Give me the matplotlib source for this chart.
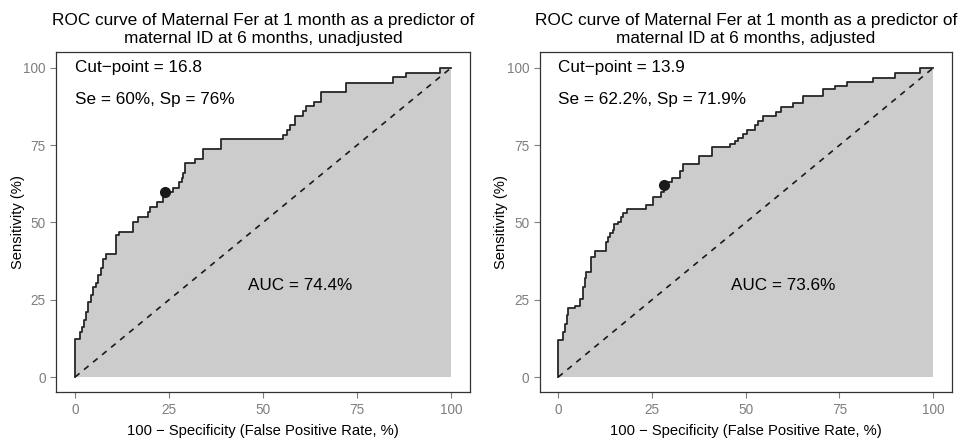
import matplotlib
matplotlib.use("Agg")
import matplotlib.pyplot as plt

plt.rcParams['font.family'] = ['Liberation Sans', 'DejaVu Sans']

# ROC 点 (100 - 特异度, 灵敏度), 单位 %
fpr_unadj = [0, 0, 1.2, 1.8, 2.4, 2.9, 3.5, 4.2, 4.9, 5.6, 6.2, 6.8, 7.4, 8.3, 10.9,
             11.8, 15.5, 16.8, 19.5, 20.0, 21.9, 23.5, 24.0, 26.1, 27.7, 28.4, 28.8,
             29.3, 31.9, 34.0, 38.7, 55.4, 56.3, 57.2, 58.5, 60.7, 61.4, 63.5, 65.5,
             72.2, 84.5, 88.0, 97.1, 100]
tpr_unadj = [0, 12.2, 14.7, 16.3, 18.4, 21.1, 24.4, 26.5, 29.2, 30.3, 33.0, 35.2, 38.2,
             39.8, 46.0, 47.0, 50.3, 51.9, 53.5, 55.1, 56.7, 58.3, 60.0, 61.1, 63.2,
             64.3, 65.9, 69.2, 70.4, 73.7, 76.9, 78.3, 79.9, 81.6, 84.5, 86.2, 87.7,
             89.1, 92.1, 95.2, 97.0, 98.5, 100, 100]

fpr_adj = [0, 0, 1.25, 1.7, 2.2, 2.6, 4.4, 5.7, 6.6, 7.0, 7.5, 8.8, 9.9, 12.8, 13.2,
           13.8, 14.5, 14.9, 15.8, 16.7, 17.3, 18.4, 23.3, 25.3, 27.5, 28.1, 28.9,
           30.2, 32.5, 33.3, 37.5, 40.9, 45.8, 47.1, 48.0, 49.3, 50.4, 52.4, 53.3,
           54.6, 58.2, 59.5, 62.6, 65.3, 70.7, 73.8, 76.9, 84.0, 89.8, 96.5, 100]
tpr_adj = [0, 11.9, 14.6, 17.3, 20.0, 22.2, 22.9, 25.4, 29.2, 31.9, 34.0, 38.7, 40.8,
           43.8, 45.4, 46.5, 47.6, 49.5, 50.2, 51.9, 53.0, 54.3, 55.7, 58.4, 60.0,
           62.2, 63.2, 64.3, 66.5, 68.9, 71.4, 74.3, 75.4, 76.5, 77.3, 78.7, 80.0,
           81.6, 82.7, 84.3, 85.6, 87.5, 88.8, 91.0, 93.2, 94.2, 95.6, 96.7, 98.5,
           100, 100]

cut_points = [16.8, 13.9]
se_labels = ["60%", "62.2%"]
sp_labels = ["76%", "71.9%"]
cut_fpr = [24.0, 28.1]
cut_tpr = [60.0, 62.2]
auc_labels = ["74.4%", "73.6%"]
titles = ["ROC curve of Maternal Fer at 1 month as a predictor of\nmaternal ID at 6 months, unadjusted",
          "ROC curve of Maternal Fer at 1 month as a predictor of\nmaternal ID at 6 months, adjusted"]
ticks = [0, 25, 50, 75, 100]

fig = plt.figure(figsize=(9.63, 4.41), dpi=100)
ax1 = fig.add_axes([0.0584, 0.110, 0.4294, 0.771])
ax2 = fig.add_axes([0.5603, 0.110, 0.4282, 0.771])

curves = [(fpr_unadj, tpr_unadj), (fpr_adj, tpr_adj)]
for i, ax in enumerate([ax1, ax2]):
    fpr, tpr = curves[i]
    ax.fill_between(fpr, tpr, 0, step='post', color='#cccccc', lw=0)
    ax.plot(fpr, tpr, drawstyle='steps-post', color='#262626', lw=1.3)
    ax.plot([0, 100], [0, 100], color='#1a1a1a', lw=1.2, ls=(0, (3.5, 3.5)))
    ax.plot(cut_fpr[i], cut_tpr[i], 'o', color='#1a1a1a', ms=7)

    ax.text(0, 100, f"Cut\u2212point = {cut_points[i]}", fontsize=12.3, ha='left', va='center')
    ax.text(0, 89.8, f"Se = {se_labels[i]}, Sp = {sp_labels[i]}", fontsize=12.3,
            ha='left', va='center')
    ax.text(60, 29.7, f"AUC = {auc_labels[i]}", fontsize=12.3, ha='center', va='center')

    ax.set_xlim(-5, 105)
    ax.set_ylim(-5, 105)
    ax.set_xticks(ticks)
    ax.set_yticks(ticks)
    ax.tick_params(colors='#7f7f7f', labelsize=9.8, length=4, width=0.8, labelcolor='#7f7f7f')
    for s in ax.spines.values():
        s.set_color('#333333')
        s.set_linewidth(0.9)
    ax.set_xlabel("100 \u2212 Specificity (False Positive Rate, %)", fontsize=10.6, labelpad=5)
    ax.set_ylabel("Sensitivity (%)", fontsize=10.6, labelpad=-1)
    ax.set_title(titles[i], fontsize=12.4, pad=7, linespacing=1.22)

fig.savefig("out.png", dpi=100)
